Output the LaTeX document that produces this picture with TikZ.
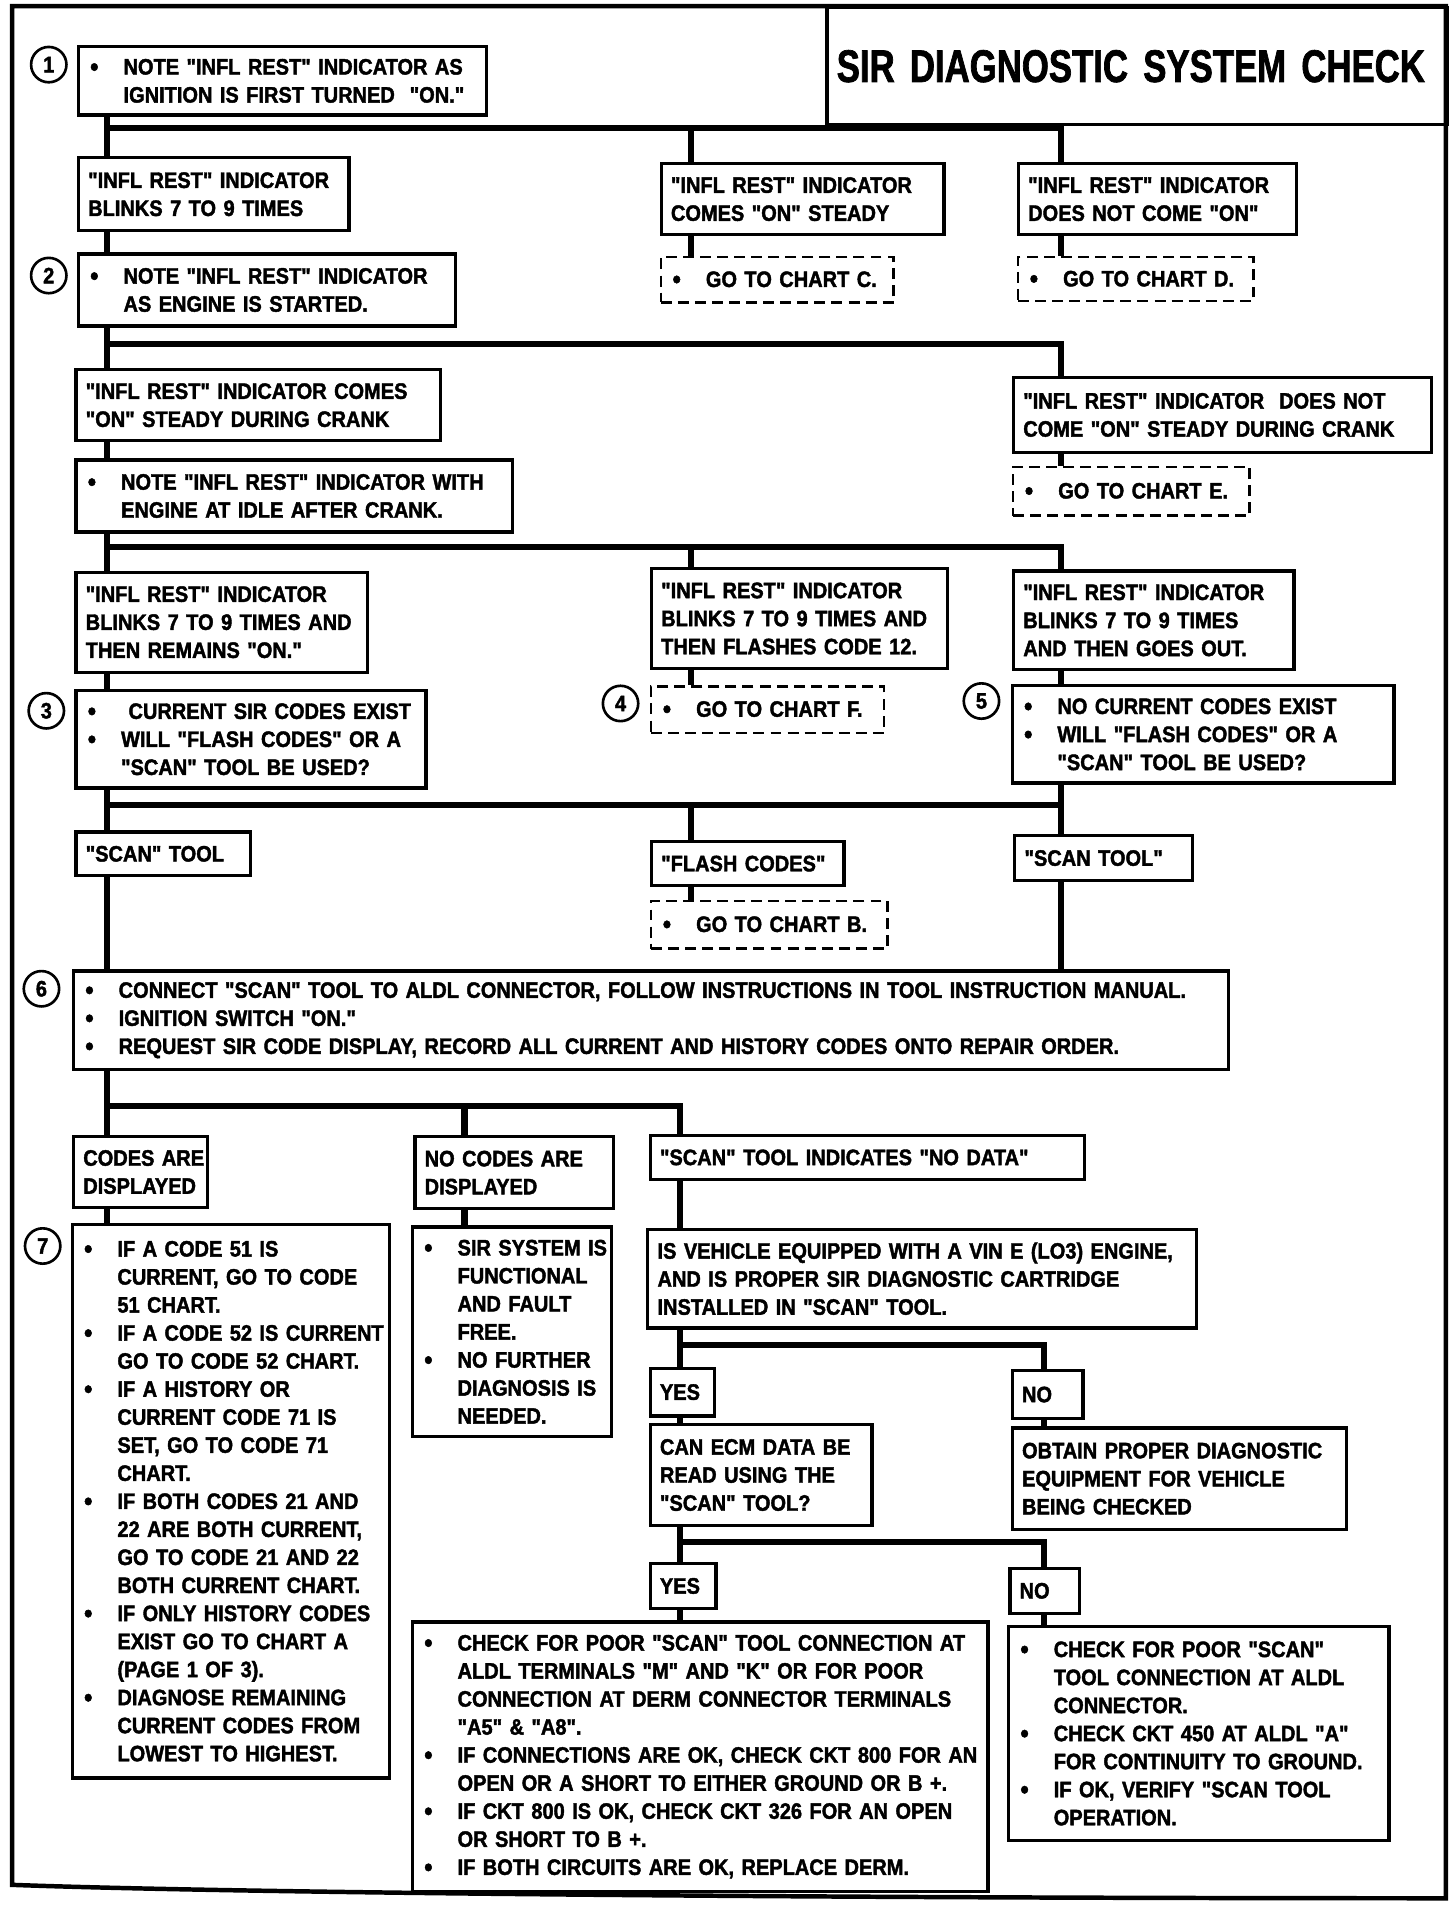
\documentclass[tikz,border=0pt]{standalone}
\usepackage{fontspec}
\setmainfont{Liberation Sans}[Ligatures=TeXOff, FakeStretch=0.895, FakeBold=1.8]
\newfontfamily\titlefont{Liberation Sans}[Ligatures=TeXOff, FakeStretch=0.76, FakeBold=1.5]
\newcommand{\bl}{\makebox[17.4pt][l]{\hspace{1pt}\raisebox{-0.6pt}{\fontsize{13}{0}\selectfont\textbullet}}}
\newcommand{\ind}{\hspace*{17.4pt}}
\begin{document}
\begin{tikzpicture}[x=0.6pt,y=-0.6pt,
    box/.style={draw, line width=1.6pt, anchor=north west, inner xsep=4.8pt, inner ysep=0pt,
      align=left, font=\bfseries\fontsize{11}{13.8}\selectfont,
      execute at begin node={\rightskip=0pt plus 1fil minus 200pt}},
    tag/.style={box, align=center},
    gobox/.style={box, line width=1.2pt, dash pattern=on 5.4pt off 3pt},
    size/.code 2 args={%
      \pgfmathsetlengthmacro\boxw{#1*0.6pt}%
      \pgfmathsetlengthmacro\boxh{#2*0.6pt}%
      \pgfmathsetlengthmacro\textw{#1*0.6pt-9.6pt}%
      \edef\tmp{\noexpand\pgfkeysalso{minimum width=\boxw, minimum height=\boxh, text width=\textw}}\tmp},
    num/.style={circle, draw, line width=1.3pt, minimum size=17.4pt, inner sep=0pt,
      font=\bfseries\fontsize{11}{13}\selectfont},
    bus/.style={line width=3pt},
    frame/.style={line width=2.2pt}]
  \useasboundingbox (0,0) rectangle (1194,1565);
  % outer frame and title
  \draw[frame] (10,5) -- (1186,5) -- (1186,1557)
    .. controls (700,1557) and (200,1553) .. (10,1546) -- cycle;
  \node[tag, size={509}{96}, font=\titlefont\bfseries\fontsize{22.5}{26}\selectfont] (title) at (677,5) {SIR DIAGNOSTIC SYSTEM CHECK};

  % step 1
  \node[box, size={335}{56}] (b1) at (63,37) {\bl NOTE "INFL REST" INDICATOR AS\\\ind IGNITION IS FIRST TURNED \ "ON."};
  \node[box, size={222}{60}] (b2a) at (63,128) {"INFL REST" INDICATOR\\BLINKS 7 TO 9 TIMES};
  \node[box, size={232}{58}] (b2b) at (541,133) {"INFL REST" INDICATOR\\COMES "ON" STEADY};
  \node[box, size={228}{58}] (b2c) at (834,133) {"INFL REST" INDICATOR\\DOES NOT COME "ON"};
  \node[gobox, size={191}{37}] (gc) at (541,210) {\bl GO TO CHART C.};
  \node[gobox, size={193}{36}] (gd) at (834,210) {\bl GO TO CHART D.};

  % step 2
  \node[box, size={309}{59}] (b3) at (63,207) {\bl NOTE "INFL REST" INDICATOR\\\ind AS ENGINE IS STARTED.};
  \node[box, size={299}{58}] (b4a) at (61,302) {"INFL REST" INDICATOR COMES\\"ON" STEADY DURING CRANK};
  \node[box, size={343}{62}] (b4b) at (830,308) {"INFL REST" INDICATOR \ DOES NOT\\COME "ON" STEADY DURING CRANK};
  \node[gobox, size={194}{40}] (ge) at (830,382) {\bl GO TO CHART E.};
  \node[box, size={358}{59}] (b5) at (61,376) {\bl NOTE "INFL REST" INDICATOR WITH\\\ind ENGINE AT IDLE AFTER CRANK.};
  \node[box, size={239}{82}] (b6a) at (61,468) {"INFL REST" INDICATOR\\BLINKS 7 TO 9 TIMES AND\\THEN REMAINS "ON."};
  \node[box, size={243}{82}] (b6b) at (533,465) {"INFL REST" INDICATOR\\BLINKS 7 TO 9 TIMES AND\\THEN FLASHES CODE 12.};
  \node[box, size={230}{81}] (b6c) at (830,467) {"INFL REST" INDICATOR\\BLINKS 7 TO 9 TIMES\\AND THEN GOES OUT.};
  \node[gobox, size={191}{38}] (gf) at (533,562) {\bl GO TO CHART F.};

  % steps 3 to 5
  \node[box, size={287}{80}] (b7) at (61,565) {\bl\ CURRENT SIR CODES EXIST\\\bl WILL "FLASH CODES" OR A\\\ind "SCAN" TOOL BE USED?};
  \node[box, size={313}{80}] (b8) at (829,561) {\bl NO CURRENT CODES EXIST\\\bl WILL "FLASH CODES" OR A\\\ind "SCAN" TOOL BE USED?};
  \node[box, size={143}{36}] (b9a) at (61,681) {"SCAN" TOOL};
  \node[box, size={158}{36}] (b9b) at (533,689) {"FLASH CODES"};
  \node[box, size={146}{37}] (b9c) at (831,684) {"SCAN TOOL"};
  \node[gobox, size={194}{39}] (gb) at (533,738) {\bl GO TO CHART B.};

  % step 6
  \node[box, size={947}{81}] (b10) at (59,795) {\bl CONNECT "SCAN" TOOL TO ALDL CONNECTOR, FOLLOW INSTRUCTIONS IN TOOL INSTRUCTION MANUAL.\\\bl IGNITION SWITCH "ON."\\\bl REQUEST SIR CODE DISPLAY, RECORD ALL CURRENT AND HISTORY CODES ONTO REPAIR ORDER.};
  \node[box, size={110}{58}] (b11a) at (59,931) {CODES ARE\\DISPLAYED};
  \node[box, size={163}{59}] (b11b) at (339,931) {NO CODES ARE\\DISPLAYED};
  \node[box, size={356}{36}] (b11c) at (532,930) {"SCAN" TOOL INDICATES "NO DATA"};

  % step 7
  \node[box, size={260}{454}] (b12a) at (58,1003) {\bl IF A CODE 51 IS\\\ind CURRENT, GO TO CODE\\\ind 51 CHART.\\\bl IF A CODE 52 IS CURRENT\\\ind GO TO CODE 52 CHART.\\\bl IF A HISTORY OR\\\ind CURRENT CODE 71 IS\\\ind SET, GO TO CODE 71\\\ind CHART.\\\bl IF BOTH CODES 21 AND\\\ind 22 ARE BOTH CURRENT,\\\ind GO TO CODE 21 AND 22\\\ind BOTH CURRENT CHART.\\\bl IF ONLY HISTORY CODES\\\ind EXIST GO TO CHART A\\\ind (PAGE 1 OF 3).\\\bl DIAGNOSE REMAINING\\\ind CURRENT CODES FROM\\\ind LOWEST TO HIGHEST.};
  \node[box, size={163}{172}] (b12b) at (337,1005) {\bl SIR SYSTEM IS\\\ind FUNCTIONAL\\\ind AND FAULT\\\ind FREE.\\\bl NO FURTHER\\\ind DIAGNOSIS IS\\\ind NEEDED.};
  \node[box, size={450}{81}] (b12c) at (530,1007) {IS VEHICLE EQUIPPED WITH A VIN E (LO3) ENGINE,\\AND IS PROPER SIR DIAGNOSTIC CARTRIDGE\\INSTALLED IN "SCAN" TOOL.};
  \node[tag, size={53}{39}] (yes1) at (532,1121) {YES};
  \node[tag, size={58}{39}] (no1) at (829,1123) {NO};
  \node[box, size={182}{83}] (b13a) at (532,1167) {CAN ECM DATA BE\\READ USING THE\\"SCAN" TOOL?};
  \node[box, size={274}{83}] (b13b) at (829,1170) {OBTAIN PROPER DIAGNOSTIC\\EQUIPMENT FOR VEHICLE\\BEING CHECKED};
  \node[tag, size={54}{37}] (yes2) at (532,1281) {YES};
  \node[tag, size={57}{37}] (no2) at (827,1285) {NO};
  \node[box, size={472}{221}] (b14a) at (337,1329) {\bl CHECK FOR POOR "SCAN" TOOL CONNECTION AT\\\ind ALDL TERMINALS "M" AND "K" OR FOR POOR\\\ind CONNECTION AT DERM CONNECTOR TERMINALS\\\ind "A5" \& "A8". \\\bl IF CONNECTIONS ARE OK, CHECK CKT 800 FOR AN\\\ind OPEN OR A SHORT TO EITHER GROUND OR B +.\\\bl IF CKT 800 IS OK, CHECK CKT 326 FOR AN OPEN\\\ind OR SHORT TO B +.\\\bl IF BOTH CIRCUITS ARE OK, REPLACE DERM.};
  \node[box, size={312}{175}] (b14b) at (826,1333) {\bl CHECK FOR POOR "SCAN"\\\ind TOOL CONNECTION AT ALDL\\\ind CONNECTOR.\\\bl CHECK CKT 450 AT ALDL "A"\\\ind FOR CONTINUITY TO GROUND.\\\bl IF OK, VERIFY "SCAN TOOL\\\ind OPERATION.};

  % step numbers
  \node[num] (n1) at (40,53) {1};
  \node[num] (n2) at (40,226) {2};
  \node[num] (n3) at (38,583) {3};
  \node[num] (n4) at (509,577) {4};
  \node[num] (n5) at (805,575) {5};
  \node[num] (n6) at (34,811) {6};
  \node[num] (n7) at (35,1022) {7};

  % columns and rows of the connectors
  \coordinate (sp) at (88,0);
  \coordinate (cm) at (567,0);
  \coordinate (cr) at (870,0);
  \coordinate (c2) at (381,0);
  \coordinate (c3) at (558,0);
  \coordinate (c4) at (856,0);
  \coordinate (r1) at (0,105);
  \coordinate (r2) at (0,282);
  \coordinate (r3) at (0,449);
  \coordinate (r4) at (0,660);
  \coordinate (r5) at (0,907);
  \coordinate (r6) at (0,1103);
  \coordinate (r7) at (0,1265);

  % left spine
  \foreach \a/\b in {b1/b2a, b2a/b3, b3/b4a, b4a/b5, b5/b6a, b6a/b7, b7/b9a, b9a/b10, b10/b11a, b11a/b12a}
    \draw[bus] (\a.south -| sp) -- (\b.north -| sp);

  % branches
  \draw[bus] (sp |- r1) -| (b2c.north -| cr);
  \draw[bus] (cm |- r1) -- (b2b.north -| cm);
  \draw[bus] (b2b.south -| cm) -- (gc.north -| cm);
  \draw[bus] (b2c.south -| cr) -- (gd.north -| cr);
  \draw[bus] (sp |- r2) -| (b4b.north -| cr);
  \draw[bus] (b4b.south -| cr) -- (ge.north -| cr);
  \draw[bus] (sp |- r3) -| (b6c.north -| cr);
  \draw[bus] (cm |- r3) -- (b6b.north -| cm);
  \draw[bus] (b6b.south -| cm) -- (gf.north -| cm);
  \draw[bus] (b6c.south -| cr) -- (b8.north -| cr);
  \draw[bus] (b8.south -| cr) -- (b9c.north -| cr);
  \draw[bus] (sp |- r4) -- (cr |- r4);
  \draw[bus] (cm |- r4) -- (b9b.north -| cm);
  \draw[bus] (b9b.south -| cm) -- (gb.north -| cm);
  \draw[bus] (b9c.south -| cr) -- (b10.north -| cr);
  \draw[bus] (sp |- r5) -| (b11c.north -| c3);
  \draw[bus] (c2 |- r5) -- (b11b.north -| c2);
  \draw[bus] (b11b.south -| c2) -- (b12b.north -| c2);
  \draw[bus] (b11c.south -| c3) -- (b12c.north -| c3);
  \draw[bus] (b12c.south -| c3) -- (yes1.north -| c3);
  \draw[bus] (c3 |- r6) -| (no1.north -| c4);
  \draw[bus] (yes1.south -| c3) -- (b13a.north -| c3);
  \draw[bus] (no1.south -| c4) -- (b13b.north -| c4);
  \draw[bus] (b13a.south -| c3) -- (yes2.north -| c3);
  \draw[bus] (c3 |- r7) -| (no2.north -| c4);
  \draw[bus] (yes2.south -| c3) -- (b14a.north -| c3);
  \draw[bus] (no2.south -| c4) -- (b14b.north -| c4);
\end{tikzpicture}
\end{document}
